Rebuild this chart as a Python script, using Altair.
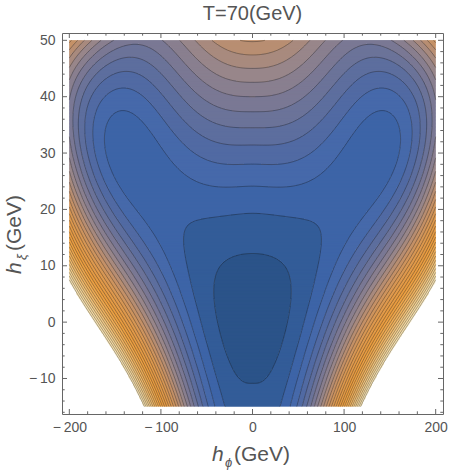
import numpy as np
import pandas as pd
import altair as alt

# ---------------- contour readings: (h_phi, h_xi, contour index) ----------------
PH = [0, 0, 0, 0, 0, 0, 0, 0, 0, 0, 0, 0, 0, 0, 0, 0, 0, 0, 0, 0,
      10, 21, 28, 36, 40, 38, 32, 25, 15, 15, 20,
      41, 48, 56, 64, 72, 74, 68, 40, 20, 55,
      30, 64, 100, 118, 143, 163, 154, 136, 114, 90, 66, 47,
      140,
      76, 90, 102, 112, 132, 149, 163, 174,
      60, 80, 100, 123,
      110, 140, 170, 200,
      150, 175, 200,
      60, 100, 180, 200,
      60, 100, 185, 200,
      60, 100, 175, 200,
      60, 100, 140, 175, 200,
      60, 100, 130, 170, 200]
PS = [-15, -10, -8, -5, 1, 6, 9, 12.1, 18.3, 23, 27.3, 31.3, 34.7, 37.8, 40.5, 42.9, 45.3, 47.5, 49.4, 50,
      -9.3, -6.4, -3.5, 0, 6.5, 9.5, 11, 11.8, 12.1, 3, 9,
      -15, -7, 0, 6, 12, 16, 18, 18.6, 18.5, 18.8,
      23.3, 23.8, 31.5, 36.5, 38.3, 32.4, 27, 22.4, 16.5, 8, 0, -15,
      31,
      0, 0, 0, 0, 0, 0, 0, 0,
      -15, -15, -15, -15,
      8, 8, 8, 8,
      18, 18, 18,
      25, 25, 25, 25,
      32, 32, 32, 32,
      38, 38, 38, 38,
      44, 44, 44, 44, 44,
      50, 50, 50, 50, 50]
PU = [1.65, 1, 0.82, 0.58, 0.4, 0.52, 0.71, 1, 2, 3, 4, 5, 6, 7, 8, 9, 10, 11, 12, 12.3,
      1, 1, 1, 1, 1, 1, 1, 1, 1, 0.5, 0.75,
      2, 2, 2, 2, 2, 2, 2, 2, 2, 2,
      3, 3, 3, 3, 3, 3, 3, 3, 3, 3, 3, 3,
      2.4,
      4, 6, 8, 10, 15, 20, 25, 29,
      8.5, 15, 21.5, 29,
      5, 10, 18, 29,
      5.5, 10, 17,
      3.2, 2.7, 6, 10,
      4.4, 3.2, 5.5, 8,
      5.7, 4.2, 4.5, 8,
      8, 6, 5, 6.5, 10,
      10.5, 8.2, 7.5, 9, 13]

LEVELS = list(range(1, 30))
U_CLIP = 29.4
COLOR_STOPS = [0.4, 1.5, 2.5, 3.5, 5, 7, 9.5, 12, 15, 19, 23, 26, 29.4]
COLORS = ['#2a5288', '#335c98', '#3d64a7', '#4669aa', '#566ba0', '#727596', '#98868a',
          '#c0906c', '#dc9850', '#eb9d3e', '#efb564', '#f2cf90', '#f8e8bc']
X_MAJOR = [-200, -100, 0, 100, 200]
X_MINOR = [v for v in range(-180, 200, 20) if v % 100 != 0]
Y_MAJOR = [-10, 0, 10, 20, 30, 40, 50]
Y_MINOR = [v for v in range(-16, 51, 2) if v % 10 != 0]

# ---------------- smooth surface through the readings ----------------
TERMS = [(0, 0), (0, 1), (0, 2), (0, 3), (0, 4), (2, 0), (2, 1), (2, 2), (2, 3), (2, 4),
         (3, 0), (3, 1), (3, 2), (3, 3), (4, 0), (4, 1), (4, 2), (5, 0), (5, 1), (6, 0)]


def basis(h, s):
    X = np.abs(np.asarray(h, float)) / 100.0
    Y = np.asarray(s, float) / 25.0
    return np.stack([X ** i * Y ** j for i, j in TERMS], axis=-1)


A = basis(PH, PS)
u = np.array(PU, float)
w = 1.0 / (1.0 + 0.25 * u)
w[u <= 1.0] *= 1.6
Aw = A * w[:, None]
coef = np.linalg.solve(Aw.T @ Aw + 1e-4 * np.eye(len(TERMS)), Aw.T @ (u * w))

dh, ds = 1.0, 0.25
hs = np.arange(-200, 200 + 1e-9, dh)
ss = np.arange(-15, 50 + 1e-9, ds)
HH, SS = np.meshgrid(hs, ss)
Z = basis(HH, SS) @ coef

# ---------------- filled bands (run-length rows, each overlapping the next) ----------------
band = np.floor(Z).astype(int)
band[Z > U_CLIP] = -99
rect_rows = []
for j, s in enumerate(ss):
    b = band[j]
    start = 0
    for i in range(1, len(hs) + 1):
        if i == len(hs) or b[i] != b[start]:
            if b[start] != -99:
                x1 = max(hs[start] - dh / 2, -200)
                x2 = min(hs[i - 1] + dh / 2, 200)
                y1 = max(s - ds / 2, -15)
                y2 = min(s + 1.5 * ds, 50)
                val = min(max(b[start] + 0.5, 0.4), U_CLIP)
                rect_rows.append((round(x1, 2), round(x2, 2), round(y1, 3), round(y2, 3), val))
            start = i
rects = pd.DataFrame(rect_rows, columns=['x1', 'x2', 'y1', 'y2', 'c'])


# ---------------- contour lines (marching squares) ----------------
def march(Z, xs, ys, lev):
    B = (Z > lev).astype(np.int8)
    case = B[:-1, :-1] * 1 + B[:-1, 1:] * 2 + B[1:, 1:] * 4 + B[1:, :-1] * 8
    js, iis = np.nonzero((case > 0) & (case < 15))
    segs = []
    for j, i in zip(js, iis):
        c = case[j, i]
        e0 = ('h', j, i); e1 = ('v', j, i + 1); e2 = ('h', j + 1, i); e3 = ('v', j, i)
        if c in (1, 14):
            segs.append((e3, e0))
        elif c in (2, 13):
            segs.append((e0, e1))
        elif c in (3, 12):
            segs.append((e3, e1))
        elif c in (4, 11):
            segs.append((e1, e2))
        elif c in (6, 9):
            segs.append((e0, e2))
        elif c in (7, 8):
            segs.append((e3, e2))
        else:
            centre = Z[j:j + 2, i:i + 2].mean() > lev
            if (c == 5) == centre:
                segs += [(e0, e1), (e2, e3)]
            else:
                segs += [(e3, e0), (e1, e2)]

    def pt(e):
        t, j, i = e
        if t == 'h':
            z0, z1 = Z[j, i], Z[j, i + 1]
            f = (lev - z0) / (z1 - z0)
            return xs[i] + f * (xs[i + 1] - xs[i]), ys[j]
        z0, z1 = Z[j, i], Z[j + 1, i]
        f = (lev - z0) / (z1 - z0)
        return xs[i], ys[j] + f * (ys[j + 1] - ys[j])

    adj = {}
    for k, (p, q) in enumerate(segs):
        adj.setdefault(p, []).append(k)
        adj.setdefault(q, []).append(k)
    used = [False] * len(segs)
    chains = []
    for k in range(len(segs)):
        if used[k]:
            continue
        used[k] = True
        chain = [segs[k][0], segs[k][1]]
        for _ in range(2):
            while True:
                end = chain[-1]
                nxt = None
                for m in adj[end]:
                    if not used[m]:
                        nxt = m
                        break
                if nxt is None:
                    break
                used[nxt] = True
                a, b2 = segs[nxt]
                chain.append(b2 if a == end else a)
            chain.reverse()
        chains.append([pt(e) for e in chain])
    return chains


line_rows = []
cid = 0
for lev in LEVELS:
    for ch in march(Z, hs, ss, lev):
        for o, (x, y) in enumerate(ch):
            line_rows.append((round(float(x), 2), round(float(y), 3), cid, o))
        cid += 1
lines = pd.DataFrame(line_rows, columns=['h', 's', 'id', 'o'])

# ---------------- chart ----------------
W, H = 381, 381
SX = alt.Scale(domain=[-208, 208], nice=False, zero=False)
SY = alt.Scale(domain=[-16.3, 51.3], nice=False, zero=False)
LBL = dict(labelFont='Liberation Sans', labelFontSize=14, labelColor='#555555',
           ticks=False, domain=False, grid=False, title=None,
           labelExpr="datum.value < 0 ? '\u2212\u2009' + (-datum.value) : datum.label")
AX = alt.Axis(values=X_MAJOR, labelPadding=6, **LBL)
AY = alt.Axis(values=Y_MAJOR, labelPadding=7, **LBL)

band_layer = alt.Chart(rects).mark_rect(strokeWidth=0).encode(
    x=alt.X('x1:Q', scale=SX, axis=AX), x2='x2:Q',
    y=alt.Y('y1:Q', scale=SY, axis=AY), y2='y2:Q',
    color=alt.Color('c:Q', scale=alt.Scale(domain=COLOR_STOPS, range=COLORS, interpolate='rgb'),
                    legend=None))

line_layer = alt.Chart(lines).mark_line(color='#111111', strokeWidth=0.7, opacity=0.5).encode(
    x=alt.X('h:Q', scale=SX, axis=AX), y=alt.Y('s:Q', scale=SY, axis=AY),
    detail='id:N', order='o:Q')

TICK_COL = '#666666'


def xticks(vals, length, top):
    d = pd.DataFrame({'v': vals})
    y0 = 0 if top else H
    y1 = length if top else H - length
    return alt.Chart(d).mark_rule(color=TICK_COL, strokeWidth=1).encode(
        x=alt.X('v:Q', scale=SX, axis=AX), y=alt.value(y0), y2=alt.value(y1))


def yticks(vals, length, right):
    d = pd.DataFrame({'v': vals})
    x0 = W if right else 0
    x1 = W - length if right else length
    return alt.Chart(d).mark_rule(color=TICK_COL, strokeWidth=1).encode(
        y=alt.Y('v:Q', scale=SY, axis=AY), x=alt.value(x0), x2=alt.value(x1))


tick_layers = [xticks(X_MAJOR, 5, False), xticks(X_MINOR, 2.7, False),
               xticks(X_MAJOR, 5, True), xticks(X_MINOR, 2.7, True),
               yticks(Y_MAJOR, 5, False), yticks(Y_MINOR, 2.7, False),
               yticks(Y_MAJOR, 5, True), yticks(Y_MINOR, 2.7, True)]


def label(text, x, y, size, italic=False, angle=0, color='#555555'):
    d = pd.DataFrame({'t': [text]})
    kw = dict(align='left', baseline='alphabetic', font='Liberation Sans', fontSize=size,
              color=color)
    if italic:
        kw['fontStyle'] = 'italic'
    if angle:
        kw['angle'] = angle
    return alt.Chart(d).mark_text(**kw).encode(x=alt.value(x), y=alt.value(y), text='t:N')


title = alt.Chart(pd.DataFrame({'t': ['T=70(GeV)']})).mark_text(
    align='center', baseline='alphabetic', font='Liberation Sans', fontSize=20,
    color='#555555').encode(x=alt.value(W / 2), y=alt.value(-13.5), text='t:N')

texts = [title,
         label('h', 150, 428, 21, italic=True),
         label('\u03d5', 163, 434, 13, italic=True),
         label('(GeV)', 172, 428, 21),
         label('h', -41.5, 241, 21, italic=True, angle=270),
         label('\u03be', -36, 227, 13, italic=True, angle=270),
         label('(GeV)', -41.5, 218, 21, angle=270)]

chart = alt.layer(band_layer, line_layer, *tick_layers, *texts).properties(
    width=W, height=H,
    padding={'left': 62, 'top': 33, 'right': 25, 'bottom': 56},
    autosize=alt.AutoSizeParams(type='none')
).configure_view(stroke='#666666', strokeWidth=1)

chart.save('out.html', embed_options={'renderer': 'svg', 'actions': False})
